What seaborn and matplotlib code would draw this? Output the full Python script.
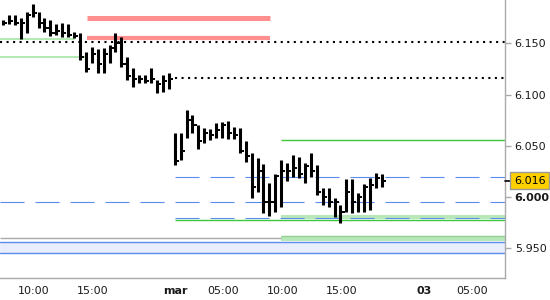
import numpy as np
import pandas as pd
import matplotlib
matplotlib.use("Agg")
import matplotlib.pyplot as plt
import matplotlib.transforms as mtransforms
import seaborn as sns

# ---------------- data ----------------
highs = [6.173, 6.178, 6.178, 6.175, 6.181, 6.188, 6.181, 6.175, 6.173, 6.169,
         6.170, 6.169, 6.161, 6.160, 6.142, 6.146, 6.144, 6.145, 6.148, 6.160,
         6.156, 6.137, 6.126, 6.119, 6.119, 6.126, 6.114, 6.119, 6.121,
         6.062, 6.062, 6.085, 6.080, 6.070, 6.067, 6.066, 6.072, 6.073, 6.074,
         6.068, 6.067, 6.055, 6.043, 6.038, 6.032, 6.014, 6.022, 6.036, 6.033,
         6.041, 6.039, 6.033, 6.043, 6.031, 6.009, 6.009, 5.999, 5.992, 6.017,
         6.017, 6.004, 6.013, 6.018, 6.023, 6.022]
lows = [6.168, 6.169, 6.168, 6.154, 6.160, 6.176, 6.165, 6.161, 6.157, 6.158,
        6.156, 6.156, 6.155, 6.134, 6.122, 6.131, 6.121, 6.121, 6.131, 6.142,
        6.127, 6.114, 6.107, 6.111, 6.111, 6.111, 6.101, 6.102, 6.105,
        6.031, 6.036, 6.058, 6.062, 6.047, 6.053, 6.056, 6.058, 6.058, 6.057,
        6.057, 6.043, 6.034, 5.999, 6.005, 5.984, 5.981, 5.985, 5.990, 6.016,
        6.019, 6.018, 6.014, 6.019, 6.002, 5.992, 5.990, 5.980, 5.975, 5.985,
        5.984, 5.985, 5.985, 5.987, 6.009, 6.010]
closes = [6.170, 6.172, 6.170, 6.170, 6.178, 6.180, 6.170, 6.165, 6.160, 6.162,
          6.160, 6.158, 6.157, 6.137, 6.125, 6.140, 6.130, 6.140, 6.145, 6.150,
          6.130, 6.118, 6.115, 6.115, 6.113, 6.115, 6.110, 6.113, 6.115,
          6.035, 6.045, 6.075, 6.070, 6.055, 6.062, 6.060, 6.065, 6.070, 6.062,
          6.060, 6.045, 6.040, 6.010, 6.025, 5.995, 5.995, 6.020, 6.025, 6.025,
          6.028, 6.022, 6.030, 6.025, 6.005, 6.000, 5.995, 5.995, 5.985, 6.005,
          5.995, 6.000, 6.010, 6.012, 6.018, 6.016]

tick_labels = ["10:00", "15:00", "mar", "05:00", "10:00", "15:00", "03", "05:00"]
bold_labels = ["mar", "03"]
price_ticks = [5.950, 6.000, 6.050, 6.100, 6.150]
last_price = 6.016

red_levels = [6.1744, 6.1555]
pale_green_levels = [6.1540, 6.1369]
dotted_levels = [6.1510, 6.1164]
green_levels = [6.0553, 5.9772]
blue_dash_levels = [6.0190, 5.9950, 5.9794]
green_band_levels = [(5.9781, 5.9823), (5.9571, 5.9618)]
gray_level = 5.9602
blue_band_levels = (5.9449, 5.9557)

# ---------------- layout config ----------------
tick_pos = [5.2, 15.2, 29.2, 37.2, 47.2, 57.2, 71.2, 79.2]
minor_pos = [25.2, 67.2]
x_min, x_max = -0.507, 84.8
red_span = (14.2, 45.1)
pale_green_ends = [12.2, 13.9]
dotted_starts = [x_min, 29.0]
green_starts = [47.0, 29.0]
blue_dash_starts = [29.0, x_min, 29.0]
band_start = 47.0

sns.set_style("white")
plt.rcParams["font.family"] = ["DejaVu Sans"]
plt.rcParams["lines.scale_dashes"] = False

fig = plt.figure(figsize=(5.5, 3), dpi=100)
ax = fig.add_axes([0, 22 / 300, 505 / 550, 278 / 300])
ax.set_xlim(x_min, x_max)
ax.set_ylim(5.9208, 6.1923)

# bands and levels (behind bars)
ax.axhspan(*blue_band_levels, color="#e8eefd", lw=0, zorder=1)
for v in blue_band_levels:
    ax.axhline(v, color="#5b8def", lw=1.0, zorder=2)
ax.hlines(gray_level, x_min, band_start, color="#aaaaaa", lw=1.0, zorder=2)
for lo, hi in green_band_levels:
    ax.fill_between([band_start, x_max], lo, hi, color="#b8e8b8", lw=0, zorder=1.5)
ax.hlines(green_band_levels[1][1], band_start, x_max, color="#90d090", lw=1.0, zorder=2)
for v, s in zip(blue_dash_levels, blue_dash_starts):
    ax.hlines(v, s, x_max, color="#5b8def", lw=0.8, linestyles=[(0, (17.3, 7.9))], zorder=2)
for v, s in zip(green_levels, green_starts):
    ax.hlines(v, s, x_max, color="#3cc83c", lw=1.0, zorder=2)
for v, e in zip(pale_green_levels, pale_green_ends):
    ax.hlines(v, x_min, e, color="#b4e8b4", lw=1.5, zorder=2)
ax.hlines(red_levels[0], *red_span, color="#ff8f8f", lw=3.6, zorder=2)
ax.hlines(red_levels[1], *red_span, color="#ff8f8f", lw=3.0, zorder=2)
for v, s in zip(dotted_levels, dotted_starts):
    ax.hlines(v, s, x_max, color="black", lw=1.5, linestyles=[(0, (1.5, 3.2))], zorder=2)

# price bars
idx = np.arange(len(highs))
df = pd.DataFrame({
    "bar": np.repeat(idx, 2),
    "slot": np.repeat(idx, 2).astype(float),
    "price": np.column_stack([lows, highs]).ravel(),
})
sns.lineplot(data=df, x="slot", y="price", units="bar", estimator=None, sort=False,
             color="black", lw=2.2, solid_capstyle="butt", legend=False, ax=ax, zorder=3)
ax.hlines(closes, idx, idx + 0.7, color="black", lw=1.4, zorder=3)

# axes styling
ax.set_xlabel("")
ax.set_ylabel("")
for side in ["left", "top"]:
    ax.spines[side].set_visible(False)
for side in ["right", "bottom"]:
    ax.spines[side].set_color("#aaaaaa")
    ax.spines[side].set_linewidth(1.0)
ax.yaxis.tick_right()
ax.set_yticks(price_ticks)
ax.set_yticklabels([f"{v:.3f}" for v in price_ticks])
ax.set_xticks(tick_pos)
ax.set_xticklabels(tick_labels)
ax.set_xticks(minor_pos, minor=True)
ax.tick_params(axis="both", which="major", length=4, width=1, color="#aaaaaa",
               labelsize=8, labelcolor="#1a1a1a", direction="out")
ax.tick_params(axis="x", which="minor", length=2.5, width=1, color="#aaaaaa")
ax.tick_params(axis="x", pad=2)
ax.tick_params(axis="y", pad=3)
for lab in ax.get_xticklabels():
    if lab.get_text() in bold_labels:
        lab.set_fontweight("bold")
for lab in ax.get_yticklabels():
    if lab.get_text() == "6.000":
        lab.set_fontweight("bold")

# last price marker
trans = mtransforms.blended_transform_factory(ax.transAxes, ax.transData)
ax.plot([1.0, 1.0 + 5 / 505], [last_price, last_price], transform=trans,
        color="black", lw=1.2, clip_on=False, zorder=5)
ax.text(1.0175, last_price, f"{last_price:.3f}", transform=trans, ha="left", va="center",
        fontsize=8, color="black", clip_on=False, zorder=6,
        bbox=dict(boxstyle="square,pad=0.32", fc="#ffd000", ec="#999999", lw=1))

fig.savefig("out.png", dpi=100)
